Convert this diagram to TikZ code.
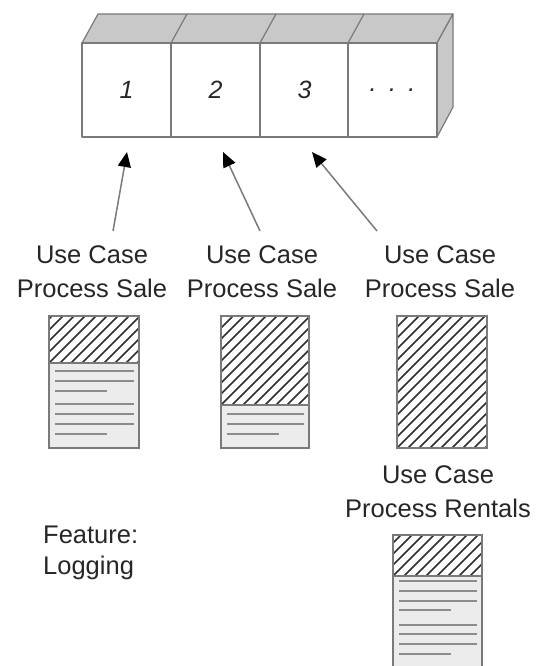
\documentclass[tikz,border=0pt]{standalone}
\usepackage{fontspec}
\setmainfont{Liberation Sans}
\usetikzlibrary{arrows.meta}
\definecolor{edgegray}{HTML}{7A7A7A}
\definecolor{facegray}{HTML}{C8C8C8}
\definecolor{paper}{HTML}{ECECEC}
\definecolor{textline}{HTML}{8C8C8C}
\definecolor{hatchcol}{HTML}{2E2E2E}
\newcommand\docpage[6]{% x1,y1,x2,y2,hatch bottom,line list
  \fill[paper] (#1,#2) rectangle (#3,#4);
  \fill[white] (#1,#2) rectangle (#3,#5);
  \begin{scope}
    \clip (#1,#2) rectangle (#3,#5);
    \foreach \k in {-15,...,10} {
      \draw[hatchline] ({#1+\k*11},#5) -- ++(150,-150);
    }
  \end{scope}
  \foreach \yy/\sh in {#6} {
    \ifnum\sh=1
      \draw[txtline] ({#1+6},\yy) -- ({#1+58},\yy);
    \else
      \draw[txtline] ({#1+6},\yy) -- ({#3-5},\yy);
    \fi
  }
  \draw[docedge] (#1,#5) -- (#3,#5);
  \draw[docedge] (#1,#2) rectangle (#3,#4);
}
\begin{document}
\begin{tikzpicture}[x=1pt,y=-1pt,
  boxedge/.style={draw=edgegray,line width=1.2pt,line join=round},
  cell/.style={boxedge,fill=white,minimum width=89pt,minimum height=94pt,inner sep=0pt,
    font=\fontsize{25}{28}\selectfont\itshape,text=black!85},
  label/.style={align=center,inner sep=0pt,anchor=north,font=\fontsize{25.5}{34}\selectfont,text=black!85},
  hatchline/.style={draw=hatchcol,line width=1.7pt},
  txtline/.style={draw=textline,line width=1.9pt},
  docedge/.style={draw=edgegray,line width=1.2pt},
  pointer/.style={draw=edgegray,line width=1.5pt,-{Triangle[length=15pt,width=13pt,color=black]}}]
\useasboundingbox (0,0) rectangle (536,666);

% 3D strip of cells
\filldraw[boxedge,fill=facegray] (82,43) -- (98,14) -- (453,14) -- (437,43) -- cycle;
\filldraw[boxedge,fill=facegray] (437,43) -- (453,14) -- (453,107) -- (437,137) -- cycle;
\node[cell] (c1) at (126.5,90) {1};
\node[cell] (c2) at (215.5,90) {2};
\node[cell] (c3) at (304.5,90) {3};
\node[cell] (c4) at (392.5,90) {.\hspace{0.5em}.\hspace{0.5em}.};
\foreach \x in {171,260,348} \draw[boxedge] (\x,43) -- (\x+16,14);

% labels
\node[label] (l1) at (92,245) {Use Case\\Process Sale};
\node[label] (l2) at (262,245) {Use Case\\Process Sale};
\node[label] (l3) at (440,245) {Use Case\\Process Sale};
\node[label] (l4) at (438,465) {Use Case\\Process Rentals};
\node[align=left,inner sep=0pt,anchor=north west,font=\fontsize{25.5}{31}\selectfont,text=black!85] (feat) at (43,526) {Feature:\\Logging};

% arrows
\coordinate (t1) at (113,231);
\coordinate (t2) at (260,231);
\coordinate (t3) at (377,231);
\coordinate (h1) at (127,152);
\coordinate (h2) at (223,152);
\coordinate (h3) at (312,152);
\draw[pointer] (t1) -- (h1);
\draw[pointer] (t2) -- (h2);
\draw[pointer] (t3) -- (h3);

% documents
\docpage{49}{316}{139}{448}{363}{371/0,381/0,391/1,404/0,414/0,424/0,434/1}
\docpage{221}{316}{309}{448}{405}{414/0,424/0,434/1}
\docpage{397}{316}{487}{448}{448}{}
\docpage{393}{535}{482}{675}{576}{581/0,591/0,601/0,610/1,625/0,634/0,644/0,654/1}
\end{tikzpicture}
\end{document}
